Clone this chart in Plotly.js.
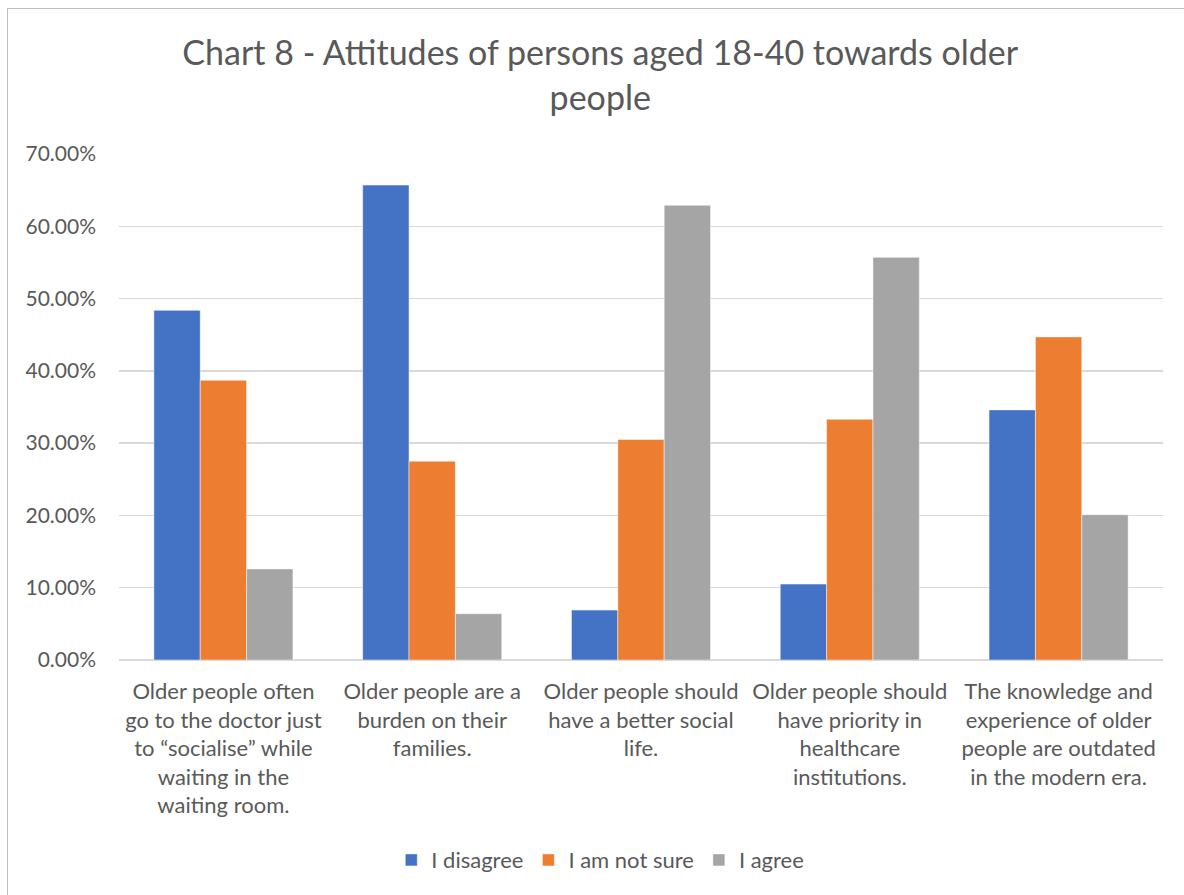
<!DOCTYPE html>
<html>
<head>
<meta charset="utf-8">
<script src="https://cdn.plot.ly/plotly-3.0.1.min.js"></script>
<style>
  html, body { margin: 0; padding: 0; background: #ffffff; }
  #frame { position: absolute; left: 7px; top: 8px; width: 1200px; height: 900px;
           border-left: 1.5px solid #bfbfbf; border-top: 1.5px solid #bfbfbf; box-sizing: border-box; }
  #chart { position: absolute; left: 0; top: 0; width: 1184px; height: 895px; }
</style>
</head>
<body>
<div id="frame"></div>
<div id="chart"></div>
<script>
// Statements shown on the category axis
const categories = [
  "Older people often<br>go to the doctor just<br>to “socialise” while<br>waiting in the<br>waiting room.",
  "Older people are a<br>burden on their<br>families.",
  "Older people should<br>have a better social<br>life.",
  "Older people should<br>have priority in<br>healthcare<br>institutions.",
  "The knowledge and<br>experience of older<br>people are outdated<br>in the modern era."
];

// Share of respondents per answer (fractions)
const disagree   = [0.4837, 0.6570, 0.0690, 0.1050, 0.3460];
const notSure    = [0.3870, 0.2750, 0.3050, 0.3330, 0.4470];
const agree      = [0.1260, 0.0640, 0.6290, 0.5570, 0.2010];

const seriesNames = ["I disagree", "I am not sure", "I agree"];
const seriesColors = ["#4472C4", "#ED7D31", "#A5A5A5"];

const yTicks = [0, 0.1, 0.2, 0.3, 0.4, 0.5, 0.6, 0.7];

const fontFamily = "Lato, 'Open Sans', sans-serif";
const textColor = "#595959";

const traces = [disagree, notSure, agree].map((vals, i) => ({
  type: "bar",
  name: seriesNames[i],
  x: categories,
  y: vals,
  marker: { color: seriesColors[i], line: { color: "rgba(255,255,255,0.6)", width: 0.8 } },
  hoverinfo: "y+name"
}));

const layout = {
  width: 1184,
  height: 895,
  paper_bgcolor: "rgba(0,0,0,0)",
  plot_bgcolor: "rgba(0,0,0,0)",
  margin: { l: 119, r: 21, t: 154, b: 235 },
  font: { family: fontFamily, color: textColor, size: 21 },
  title: {
    text: "Chart 8 - Attitudes of persons aged 18-40 towards older<br>people",
    font: { family: fontFamily, size: 34, color: textColor },
    xref: "container", x: 0.507, xanchor: "center",
    yref: "container", y: 0.927, yanchor: "top"
  },
  barmode: "group",
  bargap: 0.334,
  bargroupgap: 0,
  xaxis: {
    type: "category",
    showgrid: false,
    showline: false,
    zeroline: false,
    ticks: "",
    tickangle: 0,
    ticklabelstandoff: 16,
    tickfont: { family: fontFamily, size: 22, color: textColor }
  },
  yaxis: {
    range: [0, 0.7],
    tickvals: yTicks,
    tickformat: ".2%",
    showgrid: true,
    gridcolor: "#d9d9d9",
    gridwidth: 1.5,
    zeroline: true,
    zerolinecolor: "#d9d9d9",
    zerolinewidth: 1.5,
    showline: false,
    ticks: "",
    ticklabelstandoff: 22,
    tickfont: { family: fontFamily, size: 21, color: textColor }
  },
  showlegend: true,
  legend: {
    orientation: "h",
    xref: "container", x: 0.507, xanchor: "center",
    yref: "container", y: 0.039, yanchor: "middle",
    font: { family: fontFamily, size: 22, color: textColor },
    itemwidth: 30,
    traceorder: "normal"
  }
};

Plotly.newPlot("chart", traces, layout, { displayModeBar: false, staticPlot: true });
</script>
</body>
</html>
